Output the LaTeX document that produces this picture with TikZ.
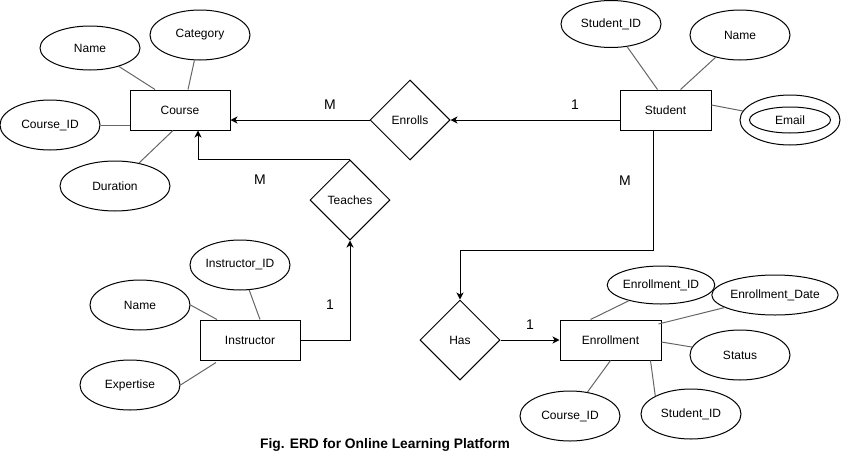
\documentclass[tikz,border=0pt]{standalone}
\usepackage{fontspec}
\setmainfont{Liberation Sans}
\usetikzlibrary{shapes.geometric,arrows.meta}
\definecolor{attrline}{RGB}{102,102,102}
\begin{document}
\begin{tikzpicture}[x=1pt,y=-1pt,
  every node/.style={font=\fontsize{12}{14}\selectfont},
  entity/.style={draw,line width=1pt,minimum width=100pt,minimum height=40pt,inner sep=0pt},
  attr/.style={draw,ellipse,line width=1pt,minimum width=100pt,minimum height=50pt,inner sep=0pt},
  rel/.style={draw,diamond,aspect=1,line width=1pt,minimum width=80pt,minimum height=80pt,inner sep=0pt},
  aline/.style={draw=attrline,line width=1pt},
  arr/.style={draw,line width=1pt,-{Stealth[length=7pt,width=7pt,inset=2pt]}},
  card/.style={font=\fontsize{14}{16}\selectfont}
]
\useasboundingbox (0,0) rectangle (841,461);

% Course
\node[entity] (course) at (180,110) {Course};
\node[attr,minimum height=44pt] (cname) at (90,48) {Name};
\node[attr] (ccat) at (200,35) {Category};
\node[attr] (cid) at (50,125) {Course\_ID};
\node[attr,minimum width=110pt] (cdur) at (115,186) {Duration};
\draw[aline] (cname) -- ([xshift=-25pt]course.north);
\draw[aline] (ccat) -- ([xshift=8pt]course.north);
\draw[aline] (cid.east) -- ([yshift=-15pt]course.west);
\draw[aline] (cdur) -- ([xshift=-7pt]course.south);

% Student
\node[entity,minimum width=91pt] (student) at (665.5,110) {Student};
\node[attr,minimum height=47pt] (sid) at (611,24) {Student\_ID};
\node[attr] (sname) at (740,35) {Name};
\node[attr] (email) at (790,120) {};
\node[draw,ellipse,line width=1pt,minimum width=81pt,minimum height=26pt,inner sep=0pt] (emailin) at (email.center) {Email};
\draw[aline] (sid) -- ([xshift=-8pt]student.north);
\draw[aline] (sname) -- ([xshift=15pt]student.north);
\draw[aline] ([yshift=5pt]student.east) -- (email);

% Relationships
\node[rel] (enrolls) at (410,120) {Enrolls};
\node[rel] (teaches) at (350,200) {Teaches};
\node[rel] (has) at (460,340) {Has};

% Instructor
\node[entity] (instr) at (250,340) {Instructor};
\node[attr] (iid) at (240,265) {Instructor\_ID};
\node[attr] (iname) at (140,305) {Name};
\node[attr] (iexp) at (130,385) {Expertise};
\draw[aline] (iid) -- ([xshift=10pt]instr.north);
\draw[aline] (iname.east) -- ([xshift=-33pt]instr.north);
\draw[aline] (iexp.east) -- ([xshift=-34pt,yshift=-2pt]instr.south);

% Enrollment
\node[entity,minimum width=101pt] (enr) at (610.5,340) {Enrollment};
\node[attr,minimum width=102pt,minimum height=38pt] (eid) at (661,285) {Enrollment\_ID};
\node[attr,minimum width=115pt,minimum height=40pt] (edate) at (775,295) {Enrollment\_Date};
\node[attr] (estat) at (740,355) {Status};
\node[attr] (ecid) at (570,416) {Course\_ID};
\node[attr] (esid) at (691,414) {Student\_ID};
\draw[aline] (eid) -- ([xshift=-20pt]enr.north);
\draw[aline] (edate) -- ([xshift=-3pt,yshift=16pt]enr.east);
\draw[aline] ([yshift=-2pt]enr.east) -- (estat);
\draw[aline] (ecid) -- (enr.south);
\draw[aline] (esid.north west) -- ([xshift=40pt]enr.south);

% Connectors
\draw[arr] ([yshift=-10pt]student.west) -- (enrolls.east);
\draw[arr] (enrolls.west) -- ([yshift=-10pt]course.east);
\draw[arr] (teaches.north) -| ([xshift=18pt]course.south);
\draw[arr] (instr.east) -| (teaches.south);
\coordinate (bend) at (653,250);
\draw[arr] ([xshift=-12.5pt]student.south) -- (bend) -| (has.north);
\draw[arr] (has.east) -- (enr.west);

% Cardinalities
\node[card] (c1) at (330,105) {M};
\node[card] (c2) at (575,105) {1};
\node[card] (c3) at (260,180) {M};
\node[card] (c4) at (330,305) {1};
\node[card] (c5) at (625,181) {M};
\node[card] (c6) at (530,325) {1};

% Title
\node[font=\bfseries\fontsize{13.8}{16}\selectfont] (title) at (385,445) {Fig. ERD for Online Learning Platform};
\end{tikzpicture}
\end{document}
